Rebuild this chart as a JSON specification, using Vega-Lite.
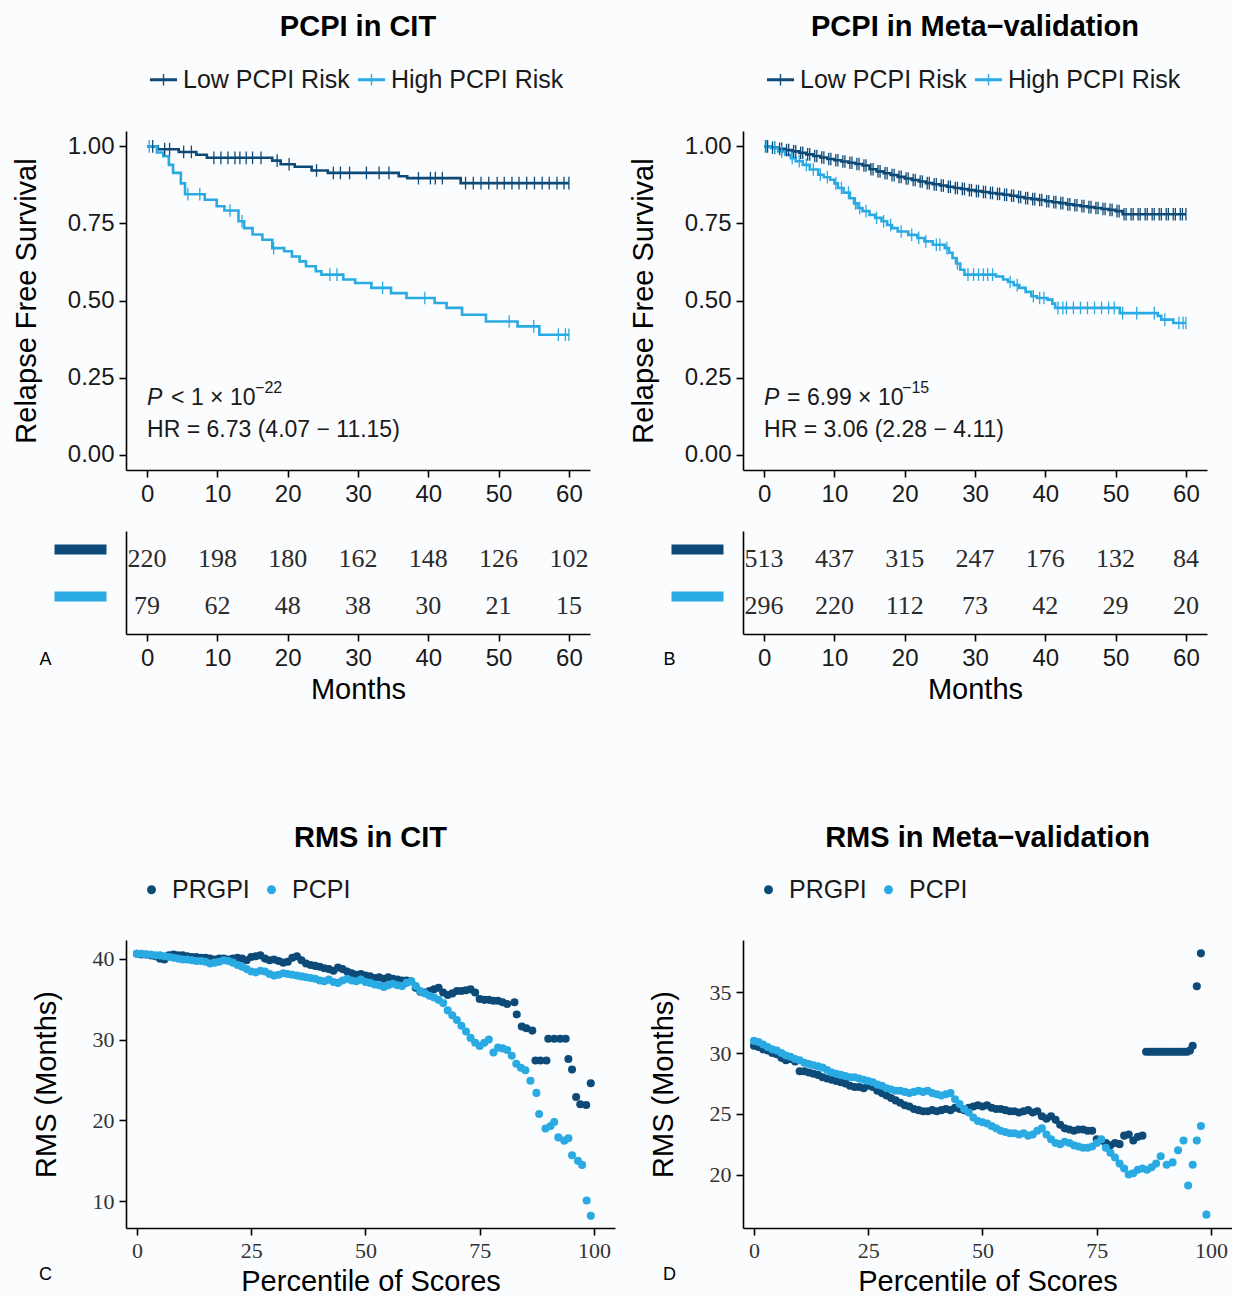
{
  "$schema": "https://vega.github.io/schema/vega-lite/v6.json",
  "background": "#fbfcfe",
  "padding": {"left": 12, "top": 13, "right": 0, "bottom": 0},
  "columns": 2,
  "align": "each",
  "spacing": {"row": 25, "column": 14},
  "resolve": {"scale": {"color": "independent"}, "legend": {"color": "independent"}},
  "config": {
    "view": {"stroke": null},
    "font": "Liberation Sans",
    "title": {"fontSize": 29, "fontWeight": "bold", "anchor": "middle", "frame": "group", "color": "#000", "offset": 24},
    "axis": {"domainColor": "#000", "domainWidth": 1.6, "tickColor": "#000", "tickWidth": 1.6, "tickSize": 7, "grid": false,
             "labelFont": "Liberation Sans", "labelFontSize": 24, "labelColor": "#1a1a1a", "labelPadding": 5,
             "titleFont": "Liberation Sans", "titleFontSize": 29, "titleFontWeight": "normal", "titleColor": "#000", "titlePadding": 6},
    "legend": {"labelFont": "Liberation Sans", "labelFontSize": 25, "labelColor": "#1a1a1a", "labelLimit": 400}
  },
  "datasets": {
    "kmA": [
      {"t":0,"s":1,"g":"Low"},{"t":1.5,"s":0.991,"g":"Low"},{"t":4.5,"s":0.982,"g":"Low"},{"t":7,"s":0.973,"g":"Low"},{"t":8.5,"s":0.963,"g":"Low"},{"t":17.8,"s":0.954,"g":"Low"},{"t":19,"s":0.942,"g":"Low"},{"t":21,"s":0.934,"g":"Low"},{"t":23.4,"s":0.922,"g":"Low"},{"t":25.7,"s":0.914,"g":"Low"},{"t":35.8,"s":0.903,"g":"Low"},{"t":37,"s":0.897,"g":"Low"},{"t":44.6,"s":0.881,"g":"Low"},{"t":60,"s":0.881,"g":"Low"},
      {"t":0,"s":1,"g":"High"},{"t":1.4,"s":0.98,"g":"High"},{"t":2.3,"s":0.968,"g":"High"},{"t":3.1,"s":0.94,"g":"High"},{"t":3.7,"s":0.914,"g":"High"},{"t":4.8,"s":0.88,"g":"High"},{"t":5.4,"s":0.845,"g":"High"},{"t":8.2,"s":0.827,"g":"High"},{"t":9.9,"s":0.806,"g":"High"},{"t":11,"s":0.792,"g":"High"},{"t":13,"s":0.757,"g":"High"},{"t":13.8,"s":0.735,"g":"High"},{"t":15,"s":0.714,"g":"High"},{"t":16.4,"s":0.697,"g":"High"},{"t":17.8,"s":0.67,"g":"High"},{"t":19.5,"s":0.66,"g":"High"},{"t":20.6,"s":0.643,"g":"High"},{"t":21.7,"s":0.627,"g":"High"},{"t":22.6,"s":0.611,"g":"High"},{"t":24,"s":0.595,"g":"High"},{"t":24.8,"s":0.584,"g":"High"},{"t":27.9,"s":0.568,"g":"High"},{"t":29.6,"s":0.557,"g":"High"},{"t":31.9,"s":0.541,"g":"High"},{"t":34.7,"s":0.524,"g":"High"},{"t":36.9,"s":0.508,"g":"High"},{"t":40.9,"s":0.492,"g":"High"},{"t":42.6,"s":0.476,"g":"High"},{"t":44.8,"s":0.454,"g":"High"},{"t":48.2,"s":0.432,"g":"High"},{"t":52.7,"s":0.416,"g":"High"},{"t":55.8,"s":0.389,"g":"High"},{"t":60,"s":0.389,"g":"High"}
    ],
    "censA": [
      {"t":0.8,"s":1,"g":"Low"},{"t":2.5,"s":0.991,"g":"Low"},{"t":3.2,"s":0.991,"g":"Low"},{"t":5.2,"s":0.982,"g":"Low"},{"t":6.3,"s":0.982,"g":"Low"},{"t":9.5,"s":0.963,"g":"Low"},{"t":10.5,"s":0.963,"g":"Low"},{"t":11.5,"s":0.963,"g":"Low"},{"t":12.5,"s":0.963,"g":"Low"},{"t":13.2,"s":0.963,"g":"Low"},{"t":14.1,"s":0.963,"g":"Low"},{"t":15,"s":0.963,"g":"Low"},{"t":16.2,"s":0.963,"g":"Low"},{"t":18.5,"s":0.954,"g":"Low"},{"t":20.2,"s":0.942,"g":"Low"},{"t":24.1,"s":0.922,"g":"Low"},{"t":26.5,"s":0.914,"g":"Low"},{"t":27.5,"s":0.914,"g":"Low"},{"t":28.8,"s":0.914,"g":"Low"},{"t":31.2,"s":0.914,"g":"Low"},{"t":33,"s":0.914,"g":"Low"},{"t":34.4,"s":0.914,"g":"Low"},{"t":38.6,"s":0.897,"g":"Low"},{"t":40.3,"s":0.897,"g":"Low"},{"t":41,"s":0.897,"g":"Low"},{"t":42,"s":0.897,"g":"Low"},{"t":45.3,"s":0.881,"g":"Low"},{"t":46.4,"s":0.881,"g":"Low"},{"t":47.5,"s":0.881,"g":"Low"},{"t":48.6,"s":0.881,"g":"Low"},{"t":49.8,"s":0.881,"g":"Low"},{"t":50.8,"s":0.881,"g":"Low"},{"t":51.9,"s":0.881,"g":"Low"},{"t":52.9,"s":0.881,"g":"Low"},{"t":54,"s":0.881,"g":"Low"},{"t":55.1,"s":0.881,"g":"Low"},{"t":56.2,"s":0.881,"g":"Low"},{"t":57.2,"s":0.881,"g":"Low"},{"t":58.3,"s":0.881,"g":"Low"},{"t":59.3,"s":0.881,"g":"Low"},{"t":60,"s":0.881,"g":"Low"},
      {"t":0.3,"s":1,"g":"High"},{"t":5.8,"s":0.845,"g":"High"},{"t":7.5,"s":0.845,"g":"High"},{"t":11.8,"s":0.792,"g":"High"},{"t":13.5,"s":0.757,"g":"High"},{"t":18,"s":0.67,"g":"High"},{"t":26,"s":0.584,"g":"High"},{"t":27,"s":0.584,"g":"High"},{"t":33.5,"s":0.541,"g":"High"},{"t":39.5,"s":0.508,"g":"High"},{"t":51.5,"s":0.432,"g":"High"},{"t":55,"s":0.416,"g":"High"},{"t":58.5,"s":0.389,"g":"High"},{"t":59.5,"s":0.389,"g":"High"},{"t":60,"s":0.389,"g":"High"}
    ],
    "kmB": [
      {"t":0,"s":1,"g":"Low"},{"t":1,"s":0.996,"g":"Low"},{"t":2,"s":0.992,"g":"Low"},{"t":3,"s":0.988,"g":"Low"},{"t":4,"s":0.984,"g":"Low"},{"t":5,"s":0.979,"g":"Low"},{"t":6,"s":0.974,"g":"Low"},{"t":7,"s":0.969,"g":"Low"},{"t":8,"s":0.964,"g":"Low"},{"t":9,"s":0.959,"g":"Low"},{"t":10,"s":0.955,"g":"Low"},{"t":11,"s":0.951,"g":"Low"},{"t":12,"s":0.947,"g":"Low"},{"t":13,"s":0.943,"g":"Low"},{"t":14,"s":0.938,"g":"Low"},{"t":15,"s":0.926,"g":"Low"},{"t":16,"s":0.919,"g":"Low"},{"t":17,"s":0.913,"g":"Low"},{"t":18,"s":0.907,"g":"Low"},{"t":19,"s":0.901,"g":"Low"},{"t":20,"s":0.896,"g":"Low"},{"t":21,"s":0.891,"g":"Low"},{"t":22,"s":0.886,"g":"Low"},{"t":23,"s":0.881,"g":"Low"},{"t":24,"s":0.877,"g":"Low"},{"t":25,"s":0.873,"g":"Low"},{"t":26,"s":0.869,"g":"Low"},{"t":27,"s":0.865,"g":"Low"},{"t":28,"s":0.862,"g":"Low"},{"t":29,"s":0.858,"g":"Low"},{"t":30,"s":0.855,"g":"Low"},{"t":31,"s":0.852,"g":"Low"},{"t":32,"s":0.849,"g":"Low"},{"t":33,"s":0.846,"g":"Low"},{"t":34,"s":0.843,"g":"Low"},{"t":35,"s":0.84,"g":"Low"},{"t":36,"s":0.836,"g":"Low"},{"t":37,"s":0.832,"g":"Low"},{"t":38,"s":0.829,"g":"Low"},{"t":39,"s":0.826,"g":"Low"},{"t":40,"s":0.822,"g":"Low"},{"t":41,"s":0.819,"g":"Low"},{"t":42,"s":0.816,"g":"Low"},{"t":43,"s":0.812,"g":"Low"},{"t":44,"s":0.809,"g":"Low"},{"t":45,"s":0.806,"g":"Low"},{"t":46,"s":0.803,"g":"Low"},{"t":47,"s":0.8,"g":"Low"},{"t":48,"s":0.797,"g":"Low"},{"t":49,"s":0.794,"g":"Low"},{"t":50,"s":0.79,"g":"Low"},{"t":51,"s":0.78,"g":"Low"},{"t":60,"s":0.78,"g":"Low"},
      {"t":0,"s":1,"g":"High"},{"t":1,"s":0.995,"g":"High"},{"t":2,"s":0.984,"g":"High"},{"t":3,"s":0.973,"g":"High"},{"t":3.8,"s":0.962,"g":"High"},{"t":4.5,"s":0.952,"g":"High"},{"t":5.5,"s":0.94,"g":"High"},{"t":6.5,"s":0.925,"g":"High"},{"t":7.7,"s":0.908,"g":"High"},{"t":8.5,"s":0.9,"g":"High"},{"t":9.4,"s":0.892,"g":"High"},{"t":10,"s":0.88,"g":"High"},{"t":10.5,"s":0.865,"g":"High"},{"t":11.3,"s":0.85,"g":"High"},{"t":12.2,"s":0.832,"g":"High"},{"t":12.8,"s":0.815,"g":"High"},{"t":13.3,"s":0.8,"g":"High"},{"t":14,"s":0.79,"g":"High"},{"t":15,"s":0.778,"g":"High"},{"t":15.8,"s":0.768,"g":"High"},{"t":16.7,"s":0.757,"g":"High"},{"t":17.5,"s":0.745,"g":"High"},{"t":18.2,"s":0.735,"g":"High"},{"t":19,"s":0.724,"g":"High"},{"t":20.5,"s":0.713,"g":"High"},{"t":21.8,"s":0.703,"g":"High"},{"t":22.8,"s":0.692,"g":"High"},{"t":24,"s":0.681,"g":"High"},{"t":25.7,"s":0.67,"g":"High"},{"t":26.3,"s":0.655,"g":"High"},{"t":26.8,"s":0.638,"g":"High"},{"t":27.3,"s":0.62,"g":"High"},{"t":27.9,"s":0.6,"g":"High"},{"t":28.5,"s":0.584,"g":"High"},{"t":33,"s":0.578,"g":"High"},{"t":34,"s":0.568,"g":"High"},{"t":34.7,"s":0.56,"g":"High"},{"t":35.5,"s":0.55,"g":"High"},{"t":36.3,"s":0.541,"g":"High"},{"t":37.2,"s":0.528,"g":"High"},{"t":38,"s":0.514,"g":"High"},{"t":38.8,"s":0.508,"g":"High"},{"t":40.3,"s":0.503,"g":"High"},{"t":41,"s":0.49,"g":"High"},{"t":41.4,"s":0.476,"g":"High"},{"t":50.6,"s":0.459,"g":"High"},{"t":56,"s":0.45,"g":"High"},{"t":56.5,"s":0.438,"g":"High"},{"t":58.2,"s":0.427,"g":"High"},{"t":60,"s":0.427,"g":"High"}
    ],
    "censB": [
      {"t":0.5,"s":1,"g":"Low"},{"t":1.5,"s":0.996,"g":"Low"},{"t":2.5,"s":0.992,"g":"Low"},{"t":3.5,"s":0.988,"g":"Low"},{"t":4.5,"s":0.984,"g":"Low"},{"t":5.5,"s":0.979,"g":"Low"},{"t":6.5,"s":0.974,"g":"Low"},{"t":7.5,"s":0.969,"g":"Low"},{"t":8.5,"s":0.964,"g":"Low"},{"t":9.5,"s":0.959,"g":"Low"},{"t":10.5,"s":0.955,"g":"Low"},{"t":11.5,"s":0.951,"g":"Low"},{"t":12.5,"s":0.947,"g":"Low"},{"t":13.5,"s":0.943,"g":"Low"},{"t":14.5,"s":0.938,"g":"Low"},{"t":15.5,"s":0.926,"g":"Low"},{"t":16.5,"s":0.919,"g":"Low"},{"t":17.5,"s":0.913,"g":"Low"},{"t":18.5,"s":0.907,"g":"Low"},{"t":19.5,"s":0.901,"g":"Low"},{"t":20.5,"s":0.896,"g":"Low"},{"t":21.5,"s":0.891,"g":"Low"},{"t":22.5,"s":0.886,"g":"Low"},{"t":23.5,"s":0.881,"g":"Low"},{"t":24.5,"s":0.877,"g":"Low"},{"t":25.5,"s":0.873,"g":"Low"},{"t":26.5,"s":0.869,"g":"Low"},{"t":27.5,"s":0.865,"g":"Low"},{"t":28.5,"s":0.862,"g":"Low"},{"t":29.5,"s":0.858,"g":"Low"},{"t":30.5,"s":0.855,"g":"Low"},{"t":31.5,"s":0.852,"g":"Low"},{"t":32.5,"s":0.849,"g":"Low"},{"t":33.5,"s":0.846,"g":"Low"},{"t":34.5,"s":0.843,"g":"Low"},{"t":35.5,"s":0.84,"g":"Low"},{"t":36.5,"s":0.836,"g":"Low"},{"t":37.5,"s":0.832,"g":"Low"},{"t":38.5,"s":0.829,"g":"Low"},{"t":39.5,"s":0.826,"g":"Low"},{"t":40.5,"s":0.822,"g":"Low"},{"t":41.5,"s":0.819,"g":"Low"},{"t":42.5,"s":0.816,"g":"Low"},{"t":43.5,"s":0.812,"g":"Low"},{"t":44.5,"s":0.809,"g":"Low"},{"t":45.5,"s":0.806,"g":"Low"},{"t":46.5,"s":0.803,"g":"Low"},{"t":47.5,"s":0.8,"g":"Low"},{"t":48.5,"s":0.797,"g":"Low"},{"t":49.5,"s":0.794,"g":"Low"},{"t":50.5,"s":0.79,"g":"Low"},{"t":51.5,"s":0.78,"g":"Low"},{"t":52.5,"s":0.78,"g":"Low"},{"t":53.5,"s":0.78,"g":"Low"},{"t":54.5,"s":0.78,"g":"Low"},{"t":55.5,"s":0.78,"g":"Low"},{"t":56.5,"s":0.78,"g":"Low"},{"t":57.5,"s":0.78,"g":"Low"},{"t":58.5,"s":0.78,"g":"Low"},{"t":59.5,"s":0.78,"g":"Low"},
      {"t":0.2,"s":1,"g":"Low"},{"t":1.2,"s":0.996,"g":"Low"},{"t":2.2,"s":0.992,"g":"Low"},{"t":3.2,"s":0.988,"g":"Low"},{"t":4.2,"s":0.984,"g":"Low"},{"t":5.2,"s":0.979,"g":"Low"},{"t":6.2,"s":0.974,"g":"Low"},{"t":7.2,"s":0.969,"g":"Low"},{"t":8.2,"s":0.964,"g":"Low"},{"t":9.2,"s":0.959,"g":"Low"},{"t":10.2,"s":0.955,"g":"Low"},{"t":11.2,"s":0.951,"g":"Low"},{"t":12.2,"s":0.947,"g":"Low"},{"t":13.2,"s":0.943,"g":"Low"},{"t":14.2,"s":0.938,"g":"Low"},{"t":15.2,"s":0.926,"g":"Low"},{"t":16.2,"s":0.919,"g":"Low"},{"t":17.2,"s":0.913,"g":"Low"},{"t":18.2,"s":0.907,"g":"Low"},{"t":19.2,"s":0.901,"g":"Low"},{"t":20.2,"s":0.896,"g":"Low"},{"t":21.2,"s":0.891,"g":"Low"},{"t":22.2,"s":0.886,"g":"Low"},{"t":23.2,"s":0.881,"g":"Low"},{"t":24.2,"s":0.877,"g":"Low"},{"t":25.2,"s":0.873,"g":"Low"},{"t":26.2,"s":0.869,"g":"Low"},{"t":27.2,"s":0.865,"g":"Low"},{"t":28.2,"s":0.862,"g":"Low"},{"t":29.2,"s":0.858,"g":"Low"},{"t":30.2,"s":0.855,"g":"Low"},{"t":31.2,"s":0.852,"g":"Low"},{"t":32.2,"s":0.849,"g":"Low"},{"t":33.2,"s":0.846,"g":"Low"},{"t":34.2,"s":0.843,"g":"Low"},{"t":35.2,"s":0.84,"g":"Low"},{"t":36.2,"s":0.836,"g":"Low"},{"t":37.2,"s":0.832,"g":"Low"},{"t":38.2,"s":0.829,"g":"Low"},{"t":39.2,"s":0.826,"g":"Low"},
      {"t":40.2,"s":0.822,"g":"Low"},{"t":41.2,"s":0.819,"g":"Low"},{"t":42.2,"s":0.816,"g":"Low"},{"t":43.2,"s":0.812,"g":"Low"},{"t":44.2,"s":0.809,"g":"Low"},{"t":45.2,"s":0.806,"g":"Low"},{"t":46.2,"s":0.803,"g":"Low"},{"t":47.2,"s":0.8,"g":"Low"},{"t":48.2,"s":0.797,"g":"Low"},{"t":49.2,"s":0.794,"g":"Low"},{"t":50.2,"s":0.79,"g":"Low"},{"t":51.2,"s":0.78,"g":"Low"},{"t":52.2,"s":0.78,"g":"Low"},{"t":53.2,"s":0.78,"g":"Low"},{"t":54.2,"s":0.78,"g":"Low"},{"t":55.2,"s":0.78,"g":"Low"},{"t":56.2,"s":0.78,"g":"Low"},{"t":57.2,"s":0.78,"g":"Low"},{"t":58.2,"s":0.78,"g":"Low"},{"t":59.2,"s":0.78,"g":"Low"},{"t":60,"s":0.78,"g":"Low"},
      {"t":0.3,"s":1,"g":"High"},{"t":1.5,"s":0.995,"g":"High"},{"t":2.5,"s":0.984,"g":"High"},{"t":4,"s":0.962,"g":"High"},{"t":5,"s":0.952,"g":"High"},{"t":6,"s":0.94,"g":"High"},{"t":7,"s":0.925,"g":"High"},{"t":8,"s":0.908,"g":"High"},{"t":9,"s":0.9,"g":"High"},{"t":10.2,"s":0.88,"g":"High"},{"t":11,"s":0.865,"g":"High"},{"t":12,"s":0.85,"g":"High"},{"t":13,"s":0.815,"g":"High"},{"t":13.6,"s":0.8,"g":"High"},{"t":14.5,"s":0.79,"g":"High"},{"t":16,"s":0.768,"g":"High"},{"t":17,"s":0.757,"g":"High"},{"t":18,"s":0.745,"g":"High"},{"t":19.5,"s":0.724,"g":"High"},{"t":21,"s":0.713,"g":"High"},{"t":22,"s":0.703,"g":"High"},{"t":23,"s":0.692,"g":"High"},{"t":24.5,"s":0.681,"g":"High"},{"t":25,"s":0.681,"g":"High"},{"t":26,"s":0.67,"g":"High"},{"t":27.5,"s":0.62,"g":"High"},{"t":29,"s":0.584,"g":"High"},{"t":29.8,"s":0.584,"g":"High"},{"t":30.5,"s":0.584,"g":"High"},{"t":31.2,"s":0.584,"g":"High"},{"t":31.8,"s":0.584,"g":"High"},{"t":32.5,"s":0.584,"g":"High"},{"t":35,"s":0.56,"g":"High"},{"t":36,"s":0.55,"g":"High"},{"t":38.3,"s":0.514,"g":"High"},{"t":39.2,"s":0.508,"g":"High"},{"t":39.8,"s":0.508,"g":"High"},{"t":41.8,"s":0.476,"g":"High"},{"t":42.5,"s":0.476,"g":"High"},{"t":43,"s":0.476,"g":"High"},{"t":44,"s":0.476,"g":"High"},{"t":45,"s":0.476,"g":"High"},{"t":46,"s":0.476,"g":"High"},{"t":47,"s":0.476,"g":"High"},{"t":48,"s":0.476,"g":"High"},{"t":49,"s":0.476,"g":"High"},{"t":49.8,"s":0.476,"g":"High"},{"t":51,"s":0.459,"g":"High"},{"t":53,"s":0.459,"g":"High"},{"t":55.5,"s":0.459,"g":"High"},{"t":57,"s":0.438,"g":"High"},{"t":59,"s":0.427,"g":"High"},{"t":59.6,"s":0.427,"g":"High"},{"t":60,"s":0.427,"g":"High"}
    ],
    "annA": [
      {"part":"p","t":0,"s":0.185,"label":"P"},
      {"part":"rel","t":0,"s":0.185,"label":"< 1 × 10"},
      {"part":"exp","t":0,"s":0.185,"label":"−22"},
      {"part":"hr","t":0,"s":0.081,"label":"HR = 6.73 (4.07 − 11.15)"}
    ],
    "annB": [
      {"part":"p","t":0,"s":0.185,"label":"P"},
      {"part":"rel","t":0,"s":0.185,"label":"= 6.99 × 10"},
      {"part":"exp","t":0,"s":0.185,"label":"−15"},
      {"part":"hr","t":0,"s":0.081,"label":"HR = 3.06 (2.28 − 4.11)"}
    ],
    "riskA": [
      {"t":0,"g":"Low","n":220},{"t":10,"g":"Low","n":198},{"t":20,"g":"Low","n":180},{"t":30,"g":"Low","n":162},{"t":40,"g":"Low","n":148},{"t":50,"g":"Low","n":126},{"t":60,"g":"Low","n":102},
      {"t":0,"g":"High","n":79},{"t":10,"g":"High","n":62},{"t":20,"g":"High","n":48},{"t":30,"g":"High","n":38},{"t":40,"g":"High","n":30},{"t":50,"g":"High","n":21},{"t":60,"g":"High","n":15}
    ],
    "riskB": [
      {"t":0,"g":"Low","n":513},{"t":10,"g":"Low","n":437},{"t":20,"g":"Low","n":315},{"t":30,"g":"Low","n":247},{"t":40,"g":"Low","n":176},{"t":50,"g":"Low","n":132},{"t":60,"g":"Low","n":84},
      {"t":0,"g":"High","n":296},{"t":10,"g":"High","n":220},{"t":20,"g":"High","n":112},{"t":30,"g":"High","n":73},{"t":40,"g":"High","n":42},{"t":50,"g":"High","n":29},{"t":60,"g":"High","n":20}
    ],
    "rmsC": [
      {"p":0,"rms":40.6,"idx":"PRGPI"},{"p":1,"rms":40.5,"idx":"PRGPI"},{"p":2,"rms":40.5,"idx":"PRGPI"},{"p":3,"rms":40.4,"idx":"PRGPI"},{"p":4,"rms":40.3,"idx":"PRGPI"},{"p":5,"rms":40.0,"idx":"PRGPI"},{"p":6,"rms":39.9,"idx":"PRGPI"},{"p":7,"rms":40.4,"idx":"PRGPI"},{"p":8,"rms":40.5,"idx":"PRGPI"},{"p":9,"rms":40.4,"idx":"PRGPI"},
      {"p":10,"rms":40.4,"idx":"PRGPI"},{"p":11,"rms":40.3,"idx":"PRGPI"},{"p":12,"rms":40.2,"idx":"PRGPI"},{"p":13,"rms":40.2,"idx":"PRGPI"},{"p":14,"rms":40.1,"idx":"PRGPI"},{"p":15,"rms":40.1,"idx":"PRGPI"},{"p":16,"rms":40.0,"idx":"PRGPI"},{"p":17,"rms":39.9,"idx":"PRGPI"},{"p":18,"rms":40.0,"idx":"PRGPI"},{"p":19,"rms":40.0,"idx":"PRGPI"},
      {"p":20,"rms":39.9,"idx":"PRGPI"},{"p":21,"rms":40.0,"idx":"PRGPI"},{"p":22,"rms":40.1,"idx":"PRGPI"},{"p":23,"rms":40.0,"idx":"PRGPI"},{"p":24,"rms":39.8,"idx":"PRGPI"},{"p":25,"rms":40.2,"idx":"PRGPI"},{"p":26,"rms":40.3,"idx":"PRGPI"},{"p":27,"rms":40.4,"idx":"PRGPI"},{"p":28,"rms":40.0,"idx":"PRGPI"},{"p":29,"rms":39.8,"idx":"PRGPI"},
      {"p":30,"rms":39.9,"idx":"PRGPI"},{"p":31,"rms":39.7,"idx":"PRGPI"},{"p":32,"rms":39.5,"idx":"PRGPI"},{"p":33,"rms":39.6,"idx":"PRGPI"},{"p":34,"rms":40.1,"idx":"PRGPI"},{"p":35,"rms":40.3,"idx":"PRGPI"},{"p":36,"rms":39.8,"idx":"PRGPI"},{"p":37,"rms":39.4,"idx":"PRGPI"},{"p":38,"rms":39.2,"idx":"PRGPI"},{"p":39,"rms":39.1,"idx":"PRGPI"},
      {"p":40,"rms":39.0,"idx":"PRGPI"},{"p":41,"rms":38.8,"idx":"PRGPI"},{"p":42,"rms":38.7,"idx":"PRGPI"},{"p":43,"rms":38.5,"idx":"PRGPI"},{"p":44,"rms":38.9,"idx":"PRGPI"},{"p":45,"rms":38.7,"idx":"PRGPI"},{"p":46,"rms":38.4,"idx":"PRGPI"},{"p":47,"rms":38.2,"idx":"PRGPI"},{"p":48,"rms":38.0,"idx":"PRGPI"},{"p":49,"rms":38.1,"idx":"PRGPI"},
      {"p":50,"rms":37.9,"idx":"PRGPI"},{"p":51,"rms":37.8,"idx":"PRGPI"},{"p":52,"rms":37.6,"idx":"PRGPI"},{"p":53,"rms":37.7,"idx":"PRGPI"},{"p":54,"rms":37.5,"idx":"PRGPI"},{"p":55,"rms":37.7,"idx":"PRGPI"},{"p":56,"rms":37.5,"idx":"PRGPI"},{"p":57,"rms":37.4,"idx":"PRGPI"},{"p":58,"rms":37.3,"idx":"PRGPI"},{"p":59,"rms":37.3,"idx":"PRGPI"},
      {"p":60,"rms":37.2,"idx":"PRGPI"},{"p":61,"rms":36.4,"idx":"PRGPI"},{"p":62,"rms":35.9,"idx":"PRGPI"},{"p":63,"rms":35.8,"idx":"PRGPI"},{"p":64,"rms":36.0,"idx":"PRGPI"},{"p":65,"rms":36.2,"idx":"PRGPI"},{"p":66,"rms":36.4,"idx":"PRGPI"},{"p":67,"rms":35.8,"idx":"PRGPI"},{"p":68,"rms":35.5,"idx":"PRGPI"},{"p":69,"rms":35.7,"idx":"PRGPI"},
      {"p":70,"rms":36.0,"idx":"PRGPI"},{"p":71,"rms":36.0,"idx":"PRGPI"},{"p":72,"rms":36.1,"idx":"PRGPI"},{"p":73,"rms":36.2,"idx":"PRGPI"},{"p":74,"rms":35.8,"idx":"PRGPI"},{"p":75,"rms":35.0,"idx":"PRGPI"},{"p":76,"rms":34.9,"idx":"PRGPI"},{"p":77,"rms":34.9,"idx":"PRGPI"},{"p":78,"rms":34.8,"idx":"PRGPI"},{"p":79,"rms":34.8,"idx":"PRGPI"},
      {"p":80,"rms":34.6,"idx":"PRGPI"},{"p":81,"rms":34.4,"idx":"PRGPI"},{"p":82.6,"rms":34.6,"idx":"PRGPI"},{"p":83.1,"rms":33.1,"idx":"PRGPI"},{"p":84.2,"rms":31.6,"idx":"PRGPI"},{"p":85.2,"rms":31.4,"idx":"PRGPI"},{"p":86.5,"rms":31.1,"idx":"PRGPI"},{"p":87.2,"rms":27.4,"idx":"PRGPI"},{"p":88.3,"rms":27.4,"idx":"PRGPI"},{"p":89.6,"rms":27.4,"idx":"PRGPI"},
      {"p":90,"rms":30.1,"idx":"PRGPI"},{"p":91.3,"rms":30.1,"idx":"PRGPI"},{"p":92.6,"rms":30.1,"idx":"PRGPI"},{"p":93.8,"rms":30.1,"idx":"PRGPI"},{"p":94.4,"rms":27.6,"idx":"PRGPI"},{"p":95.2,"rms":26.3,"idx":"PRGPI"},{"p":96.1,"rms":22.9,"idx":"PRGPI"},{"p":97,"rms":22.0,"idx":"PRGPI"},{"p":98.3,"rms":21.9,"idx":"PRGPI"},{"p":99.3,"rms":24.6,"idx":"PRGPI"},
      {"p":0,"rms":40.6,"idx":"PCPI"},{"p":1,"rms":40.6,"idx":"PCPI"},{"p":2,"rms":40.5,"idx":"PCPI"},{"p":3,"rms":40.5,"idx":"PCPI"},{"p":4,"rms":40.4,"idx":"PCPI"},{"p":5,"rms":40.4,"idx":"PCPI"},{"p":6,"rms":40.3,"idx":"PCPI"},{"p":7,"rms":40.2,"idx":"PCPI"},{"p":8,"rms":40.1,"idx":"PCPI"},{"p":9,"rms":40.0,"idx":"PCPI"},
      {"p":10,"rms":39.9,"idx":"PCPI"},{"p":11,"rms":39.9,"idx":"PCPI"},{"p":12,"rms":39.8,"idx":"PCPI"},{"p":13,"rms":39.7,"idx":"PCPI"},{"p":14,"rms":39.7,"idx":"PCPI"},{"p":15,"rms":39.6,"idx":"PCPI"},{"p":16,"rms":39.4,"idx":"PCPI"},{"p":17,"rms":39.5,"idx":"PCPI"},{"p":18,"rms":39.6,"idx":"PCPI"},{"p":19,"rms":39.8,"idx":"PCPI"},
      {"p":20,"rms":39.7,"idx":"PCPI"},{"p":21,"rms":39.5,"idx":"PCPI"},{"p":22,"rms":39.2,"idx":"PCPI"},{"p":23,"rms":39.0,"idx":"PCPI"},{"p":24,"rms":38.7,"idx":"PCPI"},{"p":25,"rms":38.4,"idx":"PCPI"},{"p":26,"rms":38.3,"idx":"PCPI"},{"p":27,"rms":38.5,"idx":"PCPI"},{"p":28,"rms":38.4,"idx":"PCPI"},{"p":29,"rms":38.1,"idx":"PCPI"},
      {"p":30,"rms":37.9,"idx":"PCPI"},{"p":31,"rms":38.0,"idx":"PCPI"},{"p":32,"rms":38.2,"idx":"PCPI"},{"p":33,"rms":38.1,"idx":"PCPI"},{"p":34,"rms":38.0,"idx":"PCPI"},{"p":35,"rms":37.9,"idx":"PCPI"},{"p":36,"rms":37.8,"idx":"PCPI"},{"p":37,"rms":37.7,"idx":"PCPI"},{"p":38,"rms":37.6,"idx":"PCPI"},{"p":39,"rms":37.5,"idx":"PCPI"},
      {"p":40,"rms":37.3,"idx":"PCPI"},{"p":41,"rms":37.2,"idx":"PCPI"},{"p":42,"rms":37.4,"idx":"PCPI"},{"p":43,"rms":37.1,"idx":"PCPI"},{"p":44,"rms":37.0,"idx":"PCPI"},{"p":45,"rms":37.3,"idx":"PCPI"},{"p":46,"rms":37.5,"idx":"PCPI"},{"p":47,"rms":37.3,"idx":"PCPI"},{"p":48,"rms":37.2,"idx":"PCPI"},{"p":49,"rms":37.4,"idx":"PCPI"},
      {"p":50,"rms":37.1,"idx":"PCPI"},{"p":51,"rms":37.0,"idx":"PCPI"},{"p":52,"rms":36.8,"idx":"PCPI"},{"p":53,"rms":36.7,"idx":"PCPI"},{"p":54,"rms":36.5,"idx":"PCPI"},{"p":55,"rms":36.7,"idx":"PCPI"},{"p":56,"rms":36.9,"idx":"PCPI"},{"p":57,"rms":36.7,"idx":"PCPI"},{"p":58,"rms":36.6,"idx":"PCPI"},{"p":59,"rms":37.0,"idx":"PCPI"},
      {"p":60,"rms":37.2,"idx":"PCPI"},{"p":61,"rms":36.6,"idx":"PCPI"},{"p":62,"rms":36.0,"idx":"PCPI"},{"p":63,"rms":35.7,"idx":"PCPI"},{"p":64,"rms":35.4,"idx":"PCPI"},{"p":65,"rms":35.2,"idx":"PCPI"},{"p":66,"rms":34.9,"idx":"PCPI"},{"p":67,"rms":34.5,"idx":"PCPI"},{"p":68,"rms":33.6,"idx":"PCPI"},{"p":69,"rms":33.0,"idx":"PCPI"},
      {"p":70,"rms":32.4,"idx":"PCPI"},{"p":71,"rms":31.7,"idx":"PCPI"},{"p":72,"rms":31.0,"idx":"PCPI"},{"p":73,"rms":30.2,"idx":"PCPI"},{"p":74,"rms":29.6,"idx":"PCPI"},{"p":75,"rms":29.2,"idx":"PCPI"},{"p":76,"rms":29.6,"idx":"PCPI"},{"p":77,"rms":30.0,"idx":"PCPI"},{"p":78,"rms":28.4,"idx":"PCPI"},{"p":79,"rms":29.0,"idx":"PCPI"},
      {"p":80,"rms":28.9,"idx":"PCPI"},{"p":81,"rms":28.7,"idx":"PCPI"},{"p":82,"rms":28.0,"idx":"PCPI"},{"p":83,"rms":27.0,"idx":"PCPI"},{"p":84,"rms":26.5,"idx":"PCPI"},{"p":85,"rms":26.2,"idx":"PCPI"},{"p":86.1,"rms":24.9,"idx":"PCPI"},{"p":87.4,"rms":23.4,"idx":"PCPI"},{"p":88,"rms":20.8,"idx":"PCPI"},{"p":89.4,"rms":19.0,"idx":"PCPI"},
      {"p":90.5,"rms":19.3,"idx":"PCPI"},{"p":91.3,"rms":19.8,"idx":"PCPI"},{"p":92.2,"rms":17.9,"idx":"PCPI"},{"p":93.5,"rms":17.5,"idx":"PCPI"},{"p":94.4,"rms":17.8,"idx":"PCPI"},{"p":95.2,"rms":15.7,"idx":"PCPI"},{"p":96.5,"rms":15.0,"idx":"PCPI"},{"p":97.4,"rms":14.5,"idx":"PCPI"},{"p":98.4,"rms":10.1,"idx":"PCPI"},{"p":99.3,"rms":8.2,"idx":"PCPI"}
    ],
    "rmsD": [
      {"p":0,"rms":30.6,"idx":"PRGPI"},{"p":1,"rms":30.5,"idx":"PRGPI"},{"p":2,"rms":30.3,"idx":"PRGPI"},{"p":3,"rms":30.2,"idx":"PRGPI"},{"p":4,"rms":30.0,"idx":"PRGPI"},{"p":5,"rms":29.9,"idx":"PRGPI"},{"p":6,"rms":29.6,"idx":"PRGPI"},{"p":7,"rms":29.4,"idx":"PRGPI"},{"p":8,"rms":29.5,"idx":"PRGPI"},{"p":9,"rms":29.3,"idx":"PRGPI"},
      {"p":10,"rms":28.5,"idx":"PRGPI"},{"p":11,"rms":28.5,"idx":"PRGPI"},{"p":12,"rms":28.4,"idx":"PRGPI"},{"p":13,"rms":28.3,"idx":"PRGPI"},{"p":14,"rms":28.2,"idx":"PRGPI"},{"p":15,"rms":28.0,"idx":"PRGPI"},{"p":16,"rms":27.9,"idx":"PRGPI"},{"p":17,"rms":27.8,"idx":"PRGPI"},{"p":18,"rms":27.7,"idx":"PRGPI"},{"p":19,"rms":27.6,"idx":"PRGPI"},
      {"p":20,"rms":27.5,"idx":"PRGPI"},{"p":21,"rms":27.3,"idx":"PRGPI"},{"p":22,"rms":27.2,"idx":"PRGPI"},{"p":23,"rms":27.2,"idx":"PRGPI"},{"p":24,"rms":27.1,"idx":"PRGPI"},{"p":25,"rms":27.3,"idx":"PRGPI"},{"p":26,"rms":27.2,"idx":"PRGPI"},{"p":27,"rms":26.9,"idx":"PRGPI"},{"p":28,"rms":26.7,"idx":"PRGPI"},{"p":29,"rms":26.5,"idx":"PRGPI"},
      {"p":30,"rms":26.3,"idx":"PRGPI"},{"p":31,"rms":26.1,"idx":"PRGPI"},{"p":32,"rms":25.9,"idx":"PRGPI"},{"p":33,"rms":25.7,"idx":"PRGPI"},{"p":34,"rms":25.6,"idx":"PRGPI"},{"p":35,"rms":25.4,"idx":"PRGPI"},{"p":36,"rms":25.3,"idx":"PRGPI"},{"p":37,"rms":25.2,"idx":"PRGPI"},{"p":38,"rms":25.2,"idx":"PRGPI"},{"p":39,"rms":25.3,"idx":"PRGPI"},
      {"p":40,"rms":25.2,"idx":"PRGPI"},{"p":41,"rms":25.3,"idx":"PRGPI"},{"p":42,"rms":25.4,"idx":"PRGPI"},{"p":43,"rms":25.3,"idx":"PRGPI"},{"p":44,"rms":25.5,"idx":"PRGPI"},{"p":45,"rms":25.4,"idx":"PRGPI"},{"p":46,"rms":25.3,"idx":"PRGPI"},{"p":47,"rms":25.5,"idx":"PRGPI"},{"p":48,"rms":25.6,"idx":"PRGPI"},{"p":49,"rms":25.7,"idx":"PRGPI"},
      {"p":50,"rms":25.6,"idx":"PRGPI"},{"p":51,"rms":25.7,"idx":"PRGPI"},{"p":52,"rms":25.5,"idx":"PRGPI"},{"p":53,"rms":25.4,"idx":"PRGPI"},{"p":54,"rms":25.4,"idx":"PRGPI"},{"p":55,"rms":25.3,"idx":"PRGPI"},{"p":56,"rms":25.2,"idx":"PRGPI"},{"p":57,"rms":25.2,"idx":"PRGPI"},{"p":58,"rms":25.1,"idx":"PRGPI"},{"p":59,"rms":25.2,"idx":"PRGPI"},
      {"p":60,"rms":25.3,"idx":"PRGPI"},{"p":61,"rms":25.1,"idx":"PRGPI"},{"p":62,"rms":25.2,"idx":"PRGPI"},{"p":63,"rms":24.8,"idx":"PRGPI"},{"p":64,"rms":24.6,"idx":"PRGPI"},{"p":65,"rms":24.8,"idx":"PRGPI"},{"p":66,"rms":24.5,"idx":"PRGPI"},{"p":67,"rms":24.1,"idx":"PRGPI"},{"p":68,"rms":23.8,"idx":"PRGPI"},{"p":69,"rms":23.7,"idx":"PRGPI"},
      {"p":70,"rms":23.6,"idx":"PRGPI"},{"p":71,"rms":23.7,"idx":"PRGPI"},{"p":72,"rms":23.7,"idx":"PRGPI"},{"p":73,"rms":23.6,"idx":"PRGPI"},{"p":74,"rms":23.6,"idx":"PRGPI"},{"p":75,"rms":22.9,"idx":"PRGPI"},{"p":76,"rms":22.8,"idx":"PRGPI"},{"p":77,"rms":22.6,"idx":"PRGPI"},{"p":78,"rms":22.4,"idx":"PRGPI"},{"p":79,"rms":22.6,"idx":"PRGPI"},
      {"p":80,"rms":22.5,"idx":"PRGPI"},{"p":81,"rms":23.2,"idx":"PRGPI"},{"p":82,"rms":23.3,"idx":"PRGPI"},{"p":83,"rms":22.8,"idx":"PRGPI"},{"p":84,"rms":23.1,"idx":"PRGPI"},{"p":85,"rms":23.2,"idx":"PRGPI"},
      {"p":85.8,"rms":30.1,"idx":"PRGPI"},{"p":86.4,"rms":30.1,"idx":"PRGPI"},{"p":87,"rms":30.1,"idx":"PRGPI"},{"p":87.6,"rms":30.1,"idx":"PRGPI"},{"p":88.2,"rms":30.1,"idx":"PRGPI"},{"p":88.8,"rms":30.1,"idx":"PRGPI"},{"p":89.4,"rms":30.1,"idx":"PRGPI"},{"p":90,"rms":30.1,"idx":"PRGPI"},{"p":90.6,"rms":30.1,"idx":"PRGPI"},{"p":91.2,"rms":30.1,"idx":"PRGPI"},{"p":91.8,"rms":30.1,"idx":"PRGPI"},{"p":92.4,"rms":30.1,"idx":"PRGPI"},{"p":93,"rms":30.1,"idx":"PRGPI"},{"p":93.6,"rms":30.1,"idx":"PRGPI"},{"p":94.2,"rms":30.1,"idx":"PRGPI"},{"p":94.8,"rms":30.1,"idx":"PRGPI"},{"p":95.4,"rms":30.2,"idx":"PRGPI"},{"p":96,"rms":30.6,"idx":"PRGPI"},{"p":96.9,"rms":35.5,"idx":"PRGPI"},{"p":97.8,"rms":38.2,"idx":"PRGPI"},
      {"p":0,"rms":31.0,"idx":"PCPI"},{"p":1,"rms":30.9,"idx":"PCPI"},{"p":2,"rms":30.7,"idx":"PCPI"},{"p":3,"rms":30.5,"idx":"PCPI"},{"p":4,"rms":30.3,"idx":"PCPI"},{"p":5,"rms":30.2,"idx":"PCPI"},{"p":6,"rms":30.0,"idx":"PCPI"},{"p":7,"rms":29.8,"idx":"PCPI"},{"p":8,"rms":29.7,"idx":"PCPI"},{"p":9,"rms":29.5,"idx":"PCPI"},
      {"p":10,"rms":29.4,"idx":"PCPI"},{"p":11,"rms":29.2,"idx":"PCPI"},{"p":12,"rms":29.1,"idx":"PCPI"},{"p":13,"rms":29.0,"idx":"PCPI"},{"p":14,"rms":28.9,"idx":"PCPI"},{"p":15,"rms":28.8,"idx":"PCPI"},{"p":16,"rms":28.6,"idx":"PCPI"},{"p":17,"rms":28.4,"idx":"PCPI"},{"p":18,"rms":28.3,"idx":"PCPI"},{"p":19,"rms":28.2,"idx":"PCPI"},
      {"p":20,"rms":28.1,"idx":"PCPI"},{"p":21,"rms":28.0,"idx":"PCPI"},{"p":22,"rms":28.0,"idx":"PCPI"},{"p":23,"rms":27.9,"idx":"PCPI"},{"p":24,"rms":27.8,"idx":"PCPI"},{"p":25,"rms":27.7,"idx":"PCPI"},{"p":26,"rms":27.6,"idx":"PCPI"},{"p":27,"rms":27.4,"idx":"PCPI"},{"p":28,"rms":27.3,"idx":"PCPI"},{"p":29,"rms":27.1,"idx":"PCPI"},
      {"p":30,"rms":27.0,"idx":"PCPI"},{"p":31,"rms":26.9,"idx":"PCPI"},{"p":32,"rms":26.9,"idx":"PCPI"},{"p":33,"rms":26.8,"idx":"PCPI"},{"p":34,"rms":26.7,"idx":"PCPI"},{"p":35,"rms":26.8,"idx":"PCPI"},{"p":36,"rms":26.9,"idx":"PCPI"},{"p":37,"rms":26.8,"idx":"PCPI"},{"p":38,"rms":26.9,"idx":"PCPI"},{"p":39,"rms":26.7,"idx":"PCPI"},
      {"p":40,"rms":26.6,"idx":"PCPI"},{"p":41,"rms":26.5,"idx":"PCPI"},{"p":42,"rms":26.6,"idx":"PCPI"},{"p":43,"rms":26.7,"idx":"PCPI"},{"p":44,"rms":26.2,"idx":"PCPI"},{"p":45,"rms":25.8,"idx":"PCPI"},{"p":46,"rms":25.4,"idx":"PCPI"},{"p":47,"rms":25.1,"idx":"PCPI"},{"p":48,"rms":24.7,"idx":"PCPI"},{"p":49,"rms":24.4,"idx":"PCPI"},
      {"p":50,"rms":24.3,"idx":"PCPI"},{"p":51,"rms":24.2,"idx":"PCPI"},{"p":52,"rms":24.0,"idx":"PCPI"},{"p":53,"rms":23.8,"idx":"PCPI"},{"p":54,"rms":23.6,"idx":"PCPI"},{"p":55,"rms":23.5,"idx":"PCPI"},{"p":56,"rms":23.4,"idx":"PCPI"},{"p":57,"rms":23.4,"idx":"PCPI"},{"p":58,"rms":23.3,"idx":"PCPI"},{"p":59,"rms":23.4,"idx":"PCPI"},
      {"p":60,"rms":23.2,"idx":"PCPI"},{"p":61,"rms":23.3,"idx":"PCPI"},{"p":62,"rms":23.6,"idx":"PCPI"},{"p":63,"rms":23.8,"idx":"PCPI"},{"p":64,"rms":23.3,"idx":"PCPI"},{"p":65,"rms":22.9,"idx":"PCPI"},{"p":66,"rms":22.6,"idx":"PCPI"},{"p":67,"rms":22.5,"idx":"PCPI"},{"p":68,"rms":22.7,"idx":"PCPI"},{"p":69,"rms":22.6,"idx":"PCPI"},
      {"p":70,"rms":22.4,"idx":"PCPI"},{"p":71,"rms":22.3,"idx":"PCPI"},{"p":72,"rms":22.2,"idx":"PCPI"},{"p":73,"rms":22.2,"idx":"PCPI"},{"p":74,"rms":22.3,"idx":"PCPI"},{"p":75,"rms":22.6,"idx":"PCPI"},{"p":76,"rms":22.9,"idx":"PCPI"},{"p":77,"rms":22.2,"idx":"PCPI"},{"p":78,"rms":21.8,"idx":"PCPI"},{"p":79,"rms":21.4,"idx":"PCPI"},
      {"p":80,"rms":20.9,"idx":"PCPI"},{"p":81,"rms":20.5,"idx":"PCPI"},{"p":82,"rms":20.0,"idx":"PCPI"},{"p":83,"rms":20.1,"idx":"PCPI"},{"p":84,"rms":20.4,"idx":"PCPI"},{"p":85,"rms":20.5,"idx":"PCPI"},{"p":86,"rms":20.4,"idx":"PCPI"},{"p":87,"rms":20.6,"idx":"PCPI"},{"p":88,"rms":20.9,"idx":"PCPI"},{"p":89,"rms":21.5,"idx":"PCPI"},
      {"p":90.3,"rms":20.8,"idx":"PCPI"},{"p":91.6,"rms":21.0,"idx":"PCPI"},{"p":92.8,"rms":22.0,"idx":"PCPI"},{"p":94,"rms":22.8,"idx":"PCPI"},{"p":95,"rms":19.1,"idx":"PCPI"},{"p":96,"rms":20.8,"idx":"PCPI"},{"p":96.9,"rms":22.8,"idx":"PCPI"},{"p":97.8,"rms":24.0,"idx":"PCPI"},{"p":99,"rms":16.7,"idx":"PCPI"}
    ]
  },
  "concat": [
    {
      "title": {"text": "PCPI in CIT"},
      "width": 464, "height": 339,
      "layer": [
        {"data": {"name": "kmA"}, "mark": {"type": "line", "interpolate": "step-after", "strokeWidth": 2.6},
         "encoding": {
           "x": {"field": "t", "type": "quantitative", "scale": {"domain": [-3, 63], "nice": false, "zero": false}, "axis": {"values": [0,10,20,30,40,50,60], "title": null}},
           "y": {"field": "s", "type": "quantitative", "scale": {"domain": [-0.05, 1.05], "nice": false}, "axis": {"values": [0,0.25,0.5,0.75,1], "format": ".2f", "title": "Relapse Free Survival", "titlePadding": 26}},
           "color": {"field": "g", "type": "nominal", "scale": {"domain": ["Low","High"], "range": ["#0d4a77","#2aaae2"]},
             "legend": {"title": null, "orient": "none", "direction": "horizontal", "legendX": 24, "legendY": -65, "symbolType": "M-1,-0.12H1V0.12H-1Z M-0.05,-0.42H0.05V0.42H-0.05Z", "symbolSize": 729, "symbolStrokeWidth": 0, "labelOffset": 6, "columnPadding": 8, "labelExpr": "datum.label + ' PCPI Risk'",
               "encode": {"symbols": {"update": {"fill": {"signal": "datum.value === 'Low' ? '#0d4a77' : '#2aaae2'"}, "fillOpacity": {"value": 1}, "opacity": {"value": 1}}}}}}
         }},
        {"data": {"name": "censA"}, "mark": {"type": "point", "shape": "M0,-1L0,1", "filled": false, "strokeWidth": 1.3, "size": 160, "opacity": 1},
         "encoding": {"x": {"field": "t", "type": "quantitative"}, "y": {"field": "s", "type": "quantitative"}, "color": {"field": "g", "type": "nominal"}}},
        {"data": {"name": "annA"}, "transform": [{"filter": "datum.part === 'p'"}], "mark": {"type": "text", "align": "left", "baseline": "middle", "fontSize": 23, "fontStyle": "italic", "color": "#1a1a1a"},
         "encoding": {"x": {"field": "t", "type": "quantitative"}, "y": {"field": "s", "type": "quantitative"}, "text": {"field": "label"}}},
        {"data": {"name": "annA"}, "transform": [{"filter": "datum.part === 'rel'"}], "mark": {"type": "text", "align": "left", "baseline": "middle", "fontSize": 23, "dx": 24, "color": "#1a1a1a"},
         "encoding": {"x": {"field": "t", "type": "quantitative"}, "y": {"field": "s", "type": "quantitative"}, "text": {"field": "label"}}},
        {"data": {"name": "annA"}, "transform": [{"filter": "datum.part === 'exp'"}], "mark": {"type": "text", "align": "left", "baseline": "middle", "fontSize": 16, "dx": 108, "dy": -10, "color": "#1a1a1a"},
         "encoding": {"x": {"field": "t", "type": "quantitative"}, "y": {"field": "s", "type": "quantitative"}, "text": {"field": "label"}}},
        {"data": {"name": "annA"}, "transform": [{"filter": "datum.part === 'hr'"}], "mark": {"type": "text", "align": "left", "baseline": "middle", "fontSize": 23, "color": "#1a1a1a"},
         "encoding": {"x": {"field": "t", "type": "quantitative"}, "y": {"field": "s", "type": "quantitative"}, "text": {"field": "label"}}}
      ]
    },
    {
      "title": {"text": "PCPI in Meta−validation"},
      "width": 464, "height": 339,
      "layer": [
        {"data": {"name": "kmB"}, "mark": {"type": "line", "interpolate": "step-after", "strokeWidth": 2.6},
         "encoding": {
           "x": {"field": "t", "type": "quantitative", "scale": {"domain": [-3, 63], "nice": false, "zero": false}, "axis": {"values": [0,10,20,30,40,50,60], "title": null}},
           "y": {"field": "s", "type": "quantitative", "scale": {"domain": [-0.05, 1.05], "nice": false}, "axis": {"values": [0,0.25,0.5,0.75,1], "format": ".2f", "title": "Relapse Free Survival", "titlePadding": 26}},
           "color": {"field": "g", "type": "nominal", "scale": {"domain": ["Low","High"], "range": ["#0d4a77","#2aaae2"]},
             "legend": {"title": null, "orient": "none", "direction": "horizontal", "legendX": 24, "legendY": -65, "symbolType": "M-1,-0.12H1V0.12H-1Z M-0.05,-0.42H0.05V0.42H-0.05Z", "symbolSize": 729, "symbolStrokeWidth": 0, "labelOffset": 6, "columnPadding": 8, "labelExpr": "datum.label + ' PCPI Risk'",
               "encode": {"symbols": {"update": {"fill": {"signal": "datum.value === 'Low' ? '#0d4a77' : '#2aaae2'"}, "fillOpacity": {"value": 1}, "opacity": {"value": 1}}}}}}
         }},
        {"data": {"name": "censB"}, "mark": {"type": "point", "shape": "M0,-1L0,1", "filled": false, "strokeWidth": 1.3, "size": 160, "opacity": 1},
         "encoding": {"x": {"field": "t", "type": "quantitative"}, "y": {"field": "s", "type": "quantitative"}, "color": {"field": "g", "type": "nominal"}}},
        {"data": {"name": "annB"}, "transform": [{"filter": "datum.part === 'p'"}], "mark": {"type": "text", "align": "left", "baseline": "middle", "fontSize": 23, "fontStyle": "italic", "color": "#1a1a1a"},
         "encoding": {"x": {"field": "t", "type": "quantitative"}, "y": {"field": "s", "type": "quantitative"}, "text": {"field": "label"}}},
        {"data": {"name": "annB"}, "transform": [{"filter": "datum.part === 'rel'"}], "mark": {"type": "text", "align": "left", "baseline": "middle", "fontSize": 23, "dx": 23, "color": "#1a1a1a"},
         "encoding": {"x": {"field": "t", "type": "quantitative"}, "y": {"field": "s", "type": "quantitative"}, "text": {"field": "label"}}},
        {"data": {"name": "annB"}, "transform": [{"filter": "datum.part === 'exp'"}], "mark": {"type": "text", "align": "left", "baseline": "middle", "fontSize": 16, "dx": 138, "dy": -10, "color": "#1a1a1a"},
         "encoding": {"x": {"field": "t", "type": "quantitative"}, "y": {"field": "s", "type": "quantitative"}, "text": {"field": "label"}}},
        {"data": {"name": "annB"}, "transform": [{"filter": "datum.part === 'hr'"}], "mark": {"type": "text", "align": "left", "baseline": "middle", "fontSize": 23, "color": "#1a1a1a"},
         "encoding": {"x": {"field": "t", "type": "quantitative"}, "y": {"field": "s", "type": "quantitative"}, "text": {"field": "label"}}}
      ]
    },
    {
      "width": 464, "height": 103,
      "data": {"name": "riskA"},
      "mark": {"type": "text", "font": "Liberation Serif", "fontSize": 26, "color": "#2b2b2b", "baseline": "middle"},
      "encoding": {
        "x": {"field": "t", "type": "quantitative", "scale": {"domain": [-3, 63], "nice": false, "zero": false}, "axis": {"values": [0,10,20,30,40,50,60], "title": "Months", "titlePadding": 5}},
        "y": {"field": "g", "type": "nominal", "scale": {"type": "point", "domain": ["Low","High"], "padding": 0.6},
          "axis": {"title": "A", "titleAngle": 0, "titleX": -81, "titleY": 128, "titleAlign": "center", "titleBaseline": "middle", "titleFontSize": 18, "labels": false, "tickSize": 72, "tickWidth": 10, "tickDash": [0, 20, 52, 0], "tickOffset": -10,
            "tickColor": {"condition": {"test": "datum.value === 'Low'", "value": "#0d4a77"}, "value": "#2aaae2"}}},
        "text": {"field": "n", "type": "quantitative"}
      }
    },
    {
      "width": 464, "height": 103,
      "data": {"name": "riskB"},
      "mark": {"type": "text", "font": "Liberation Serif", "fontSize": 26, "color": "#2b2b2b", "baseline": "middle"},
      "encoding": {
        "x": {"field": "t", "type": "quantitative", "scale": {"domain": [-3, 63], "nice": false, "zero": false}, "axis": {"values": [0,10,20,30,40,50,60], "title": "Months", "titlePadding": 5}},
        "y": {"field": "g", "type": "nominal", "scale": {"type": "point", "domain": ["Low","High"], "padding": 0.6},
          "axis": {"title": "B", "titleAngle": 0, "titleX": -74, "titleY": 128, "titleAlign": "center", "titleBaseline": "middle", "titleFontSize": 18, "labels": false, "tickSize": 72, "tickWidth": 10, "tickDash": [0, 20, 52, 0], "tickOffset": -10,
            "tickColor": {"condition": {"test": "datum.value === 'Low'", "value": "#0d4a77"}, "value": "#2aaae2"}}},
        "text": {"field": "n", "type": "quantitative"}
      }
    },
    {
      "title": {"text": ["", "RMS in CIT"], "lineHeight": 95},
      "width": 489, "height": 288,
      "layer": [
        {"data": {"name": "rmsC"}, "mark": {"type": "circle", "size": 65, "opacity": 1},
         "encoding": {
           "x": {"field": "p", "type": "quantitative", "scale": {"domain": [-2.4, 104.6], "nice": false, "zero": false}, "axis": {"values": [0,25,50,75,100], "title": "Percentile of Scores", "labelFont": "Liberation Serif", "labelFontSize": 22, "labelColor": "#333", "titlePadding": 6}},
           "y": {"field": "rms", "type": "quantitative", "scale": {"domain": [6.7, 42.3], "nice": false, "zero": false}, "axis": {"values": [10,20,30,40], "title": "RMS (Months)", "labelFont": "Liberation Serif", "labelFontSize": 22, "labelColor": "#333", "titlePadding": 31}},
           "color": {"field": "idx", "type": "nominal", "scale": {"domain": ["PRGPI","PCPI"], "range": ["#0d4a77","#2aaae2"]},
             "legend": {"title": null, "orient": "none", "direction": "horizontal", "legendX": 13, "legendY": -63, "symbolType": "circle", "symbolSize": 80, "labelOffset": 8, "columnPadding": 9}}
         }},
        {"data": {"values": []}, "mark": "point",
         "encoding": {"y": {"field": "rms", "type": "quantitative", "scale": {"domain": [6.7, 42.3], "nice": false, "zero": false},
           "axis": {"orient": "left", "title": "C", "titleAngle": 0, "titleX": -81, "titleY": 334, "titleAlign": "center", "titleBaseline": "middle", "titleFontSize": 18, "domain": false, "ticks": false, "labels": false}}}}
      ],
      "resolve": {"axis": {"y": "independent"}}
    },
    {
      "title": {"text": ["", "RMS in Meta−validation"], "lineHeight": 95},
      "width": 489, "height": 288,
      "layer": [
        {"data": {"name": "rmsD"}, "mark": {"type": "circle", "size": 65, "opacity": 1},
         "encoding": {
           "x": {"field": "p", "type": "quantitative", "scale": {"domain": [-2.4, 104.6], "nice": false, "zero": false}, "axis": {"values": [0,25,50,75,100], "title": "Percentile of Scores", "labelFont": "Liberation Serif", "labelFontSize": 22, "labelColor": "#333", "titlePadding": 6}},
           "y": {"field": "rms", "type": "quantitative", "scale": {"domain": [15.6, 39.3], "nice": false, "zero": false}, "axis": {"values": [20,25,30,35], "title": "RMS (Months)", "labelFont": "Liberation Serif", "labelFontSize": 22, "labelColor": "#333", "titlePadding": 31}},
           "color": {"field": "idx", "type": "nominal", "scale": {"domain": ["PRGPI","PCPI"], "range": ["#0d4a77","#2aaae2"]},
             "legend": {"title": null, "orient": "none", "direction": "horizontal", "legendX": 13, "legendY": -63, "symbolType": "circle", "symbolSize": 80, "labelOffset": 8, "columnPadding": 9}}
         }},
        {"data": {"values": []}, "mark": "point",
         "encoding": {"y": {"field": "rms", "type": "quantitative", "scale": {"domain": [15.6, 39.3], "nice": false, "zero": false},
           "axis": {"orient": "left", "title": "D", "titleAngle": 0, "titleX": -74, "titleY": 334, "titleAlign": "center", "titleBaseline": "middle", "titleFontSize": 18, "domain": false, "ticks": false, "labels": false}}}}
      ],
      "resolve": {"axis": {"y": "independent"}}
    }
  ]
}
